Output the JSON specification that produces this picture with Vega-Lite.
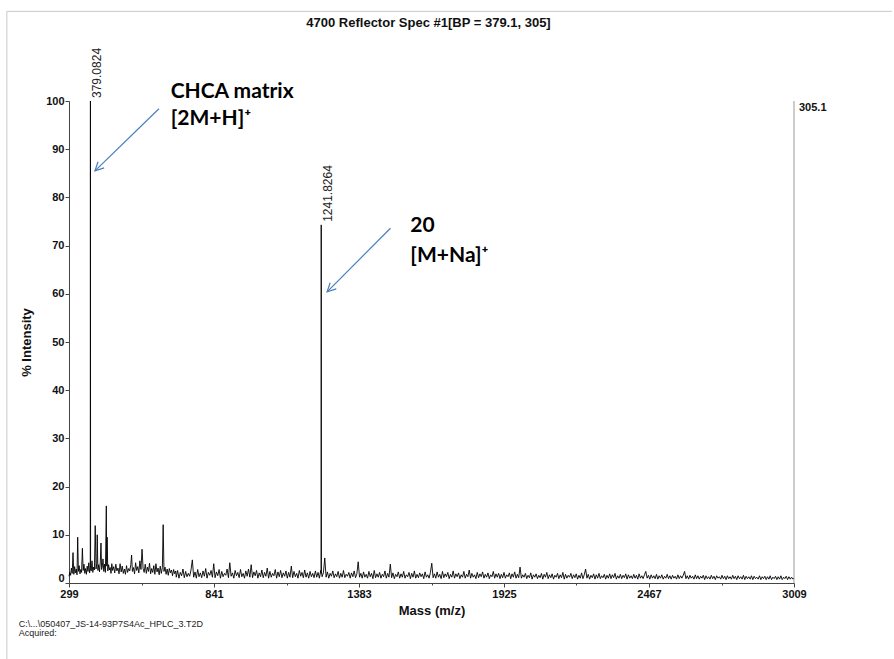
{
  "$schema": "https://vega.github.io/schema/vega-lite/v6.json",
  "width": 725,
  "height": 482,
  "autosize": {"type": "none"},
  "padding": {"left": 69, "top": 101, "right": 100, "bottom": 76},
  "background": "white",
  "title": {"text": "4700 Reflector Spec #1[BP = 379.1, 305]", "font": "Liberation Sans", "fontSize": 13, "fontWeight": "bold", "color": "#111111", "anchor": "middle", "frame": "group", "offset": 0, "dx": -3, "dy": 19},
  "config": {"view": {"stroke": null}, "font": "Liberation Sans"},
  "datasets": {
    "spectrum": [
      {"m":299,"i":1.4},{"m":302,"i":2.2},{"m":305,"i":1.6},{"m":308,"i":3.1},{"m":311,"i":2.0},{"m":314,"i":6.3},{"m":317,"i":1.8},{"m":320,"i":3.4},{"m":323,"i":2.1},{"m":326,"i":2.9},{"m":329,"i":1.7},{"m":331.5,"i":9.5},{"m":334,"i":2.4},{"m":337,"i":3.6},{"m":340,"i":1.9},{"m":343,"i":2.8},{"m":346,"i":2.2},{"m":349,"i":7.2},{"m":352,"i":2.6},{"m":355,"i":3.9},{"m":358,"i":2.0},{"m":361,"i":3.0},{"m":364,"i":1.8},{"m":367,"i":3.5},{"m":370,"i":2.4},{"m":373,"i":4.2},{"m":376,"i":2.1},{"m":378.5,"i":3.0},{"m":379.08,"i":100},{"m":379.7,"i":3.2},{"m":382,"i":2.5},{"m":385,"i":4.6},{"m":388,"i":2.2},{"m":391,"i":3.3},{"m":394,"i":2.7},{"m":397,"i":11.9},{"m":400,"i":2.9},{"m":403,"i":4.1},{"m":404.5,"i":10.0},{"m":407,"i":2.6},{"m":410,"i":3.8},{"m":413,"i":2.3},{"m":416,"i":4.4},{"m":418.5,"i":8.3},{"m":421,"i":2.8},{"m":424,"i":3.6},{"m":426,"i":5.0},{"m":429,"i":2.4},{"m":432,"i":3.9},{"m":435,"i":2.2},{"m":438.5,"i":16.0},{"m":440,"i":3.5},{"m":441.5,"i":9.5},{"m":444,"i":2.5},{"m":447,"i":3.8},{"m":450,"i":2.7},{"m":453,"i":3.2},{"m":456,"i":2.0},{"m":459,"i":4.0},{"m":462,"i":2.6},{"m":466,"i":3.4},{"m":470,"i":2.1},{"m":474,"i":3.9},{"m":478,"i":2.5},{"m":482,"i":3.1},{"m":486,"i":1.9},{"m":490,"i":4.0},{"m":494,"i":2.3},{"m":498,"i":3.5},{"m":502,"i":2.0},{"m":506,"i":2.9},{"m":510,"i":1.8},{"m":514,"i":3.6},{"m":518,"i":2.2},{"m":522,"i":3.0},{"m":526,"i":2.5},{"m":530,"i":3.8},{"m":533,"i":5.8},{"m":536,"i":2.4},{"m":540,"i":3.2},{"m":544,"i":1.9},{"m":548,"i":4.2},{"m":552,"i":2.6},{"m":556,"i":3.4},{"m":560,"i":2.1},{"m":564,"i":4.6},{"m":568,"i":2.8},{"m":572,"i":7.0},{"m":576,"i":3.0},{"m":580,"i":2.2},{"m":584,"i":3.9},{"m":588,"i":2.0},{"m":592,"i":3.3},{"m":596,"i":2.4},{"m":600,"i":4.1},{"m":604,"i":1.9},{"m":608,"i":3.0},{"m":612,"i":2.2},{"m":616,"i":3.6},{"m":620,"i":1.8},{"m":624,"i":4.0},{"m":628,"i":2.3},{"m":632,"i":3.1},{"m":636,"i":1.7},{"m":640,"i":3.5},{"m":644,"i":2.0},{"m":648,"i":3.2},{"m":651,"i":12.1},{"m":654,"i":2.4},{"m":658,"i":3.3},{"m":662,"i":1.8},{"m":666,"i":2.9},{"m":670,"i":1.6},{"m":674,"i":3.0},{"m":678,"i":2.1},{"m":682,"i":2.7},{"m":686,"i":1.5},{"m":690,"i":2.8},{"m":694,"i":1.9},{"m":698,"i":2.5},
      {"m":700,"i":1.2},{"m":705,"i":2.6},{"m":710,"i":1.0},{"m":715,"i":2.2},{"m":720,"i":1.5},{"m":725,"i":2.9},{"m":730,"i":1.1},{"m":735,"i":2.4},{"m":740,"i":1.3},{"m":745,"i":2.0},
      {"m":750,"i":1.4},{"m":755,"i":2.7},{"m":760,"i":4.8},{"m":765,"i":1.2},{"m":770,"i":2.3},{"m":775,"i":1.0},{"m":780,"i":2.8},{"m":785,"i":1.3},{"m":790,"i":2.1},{"m":795,"i":1.1},
      {"m":800,"i":2.5},{"m":805,"i":1.4},{"m":810,"i":3.0},{"m":815,"i":1.0},{"m":820,"i":2.2},{"m":825,"i":1.6},{"m":830,"i":2.6},{"m":835,"i":1.2},{"m":840,"i":4.0},{"m":845,"i":1.1},
      {"m":850,"i":2.3},{"m":855,"i":1.5},{"m":860,"i":2.8},{"m":865,"i":1.0},{"m":870,"i":2.4},{"m":875,"i":1.3},{"m":880,"i":2.0},{"m":885,"i":1.6},{"m":890,"i":2.9},{"m":895,"i":1.1},
      {"m":900,"i":4.2},{"m":905,"i":1.4},{"m":910,"i":2.1},{"m":915,"i":1.0},{"m":920,"i":2.6},{"m":925,"i":1.5},{"m":930,"i":2.2},{"m":935,"i":1.1},{"m":940,"i":2.8},{"m":945,"i":1.3},
      {"m":950,"i":2.0},{"m":955,"i":1.0},{"m":960,"i":2.5},{"m":965,"i":1.4},{"m":970,"i":2.9},{"m":975,"i":1.2},{"m":980,"i":3.8},{"m":985,"i":1.1},{"m":990,"i":2.3},{"m":995,"i":1.5},
      {"m":1000,"i":2.6},{"m":1005,"i":1.0},{"m":1010,"i":2.1},{"m":1015,"i":1.3},{"m":1020,"i":2.7},{"m":1025,"i":1.1},{"m":1030,"i":2.2},{"m":1035,"i":1.4},{"m":1040,"i":3.1},{"m":1045,"i":1.0},
      {"m":1050,"i":2.4},{"m":1055,"i":1.2},{"m":1060,"i":2.0},{"m":1065,"i":1.5},{"m":1070,"i":2.8},{"m":1075,"i":1.0},{"m":1080,"i":2.3},{"m":1085,"i":1.3},{"m":1090,"i":2.6},{"m":1095,"i":1.1},
      {"m":1100,"i":2.1},{"m":1105,"i":1.4},{"m":1110,"i":2.5},{"m":1115,"i":1.0},{"m":1120,"i":2.2},{"m":1125,"i":1.2},{"m":1130,"i":3.5},{"m":1135,"i":1.1},{"m":1140,"i":2.4},{"m":1145,"i":1.3},
      {"m":1150,"i":2.0},{"m":1155,"i":1.0},{"m":1160,"i":2.6},{"m":1165,"i":1.4},{"m":1170,"i":2.2},{"m":1175,"i":1.1},{"m":1180,"i":2.7},{"m":1185,"i":1.2},{"m":1190,"i":2.1},{"m":1195,"i":1.0},
      {"m":1200,"i":2.4},{"m":1205,"i":1.3},{"m":1210,"i":2.0},{"m":1215,"i":1.1},{"m":1220,"i":2.5},{"m":1225,"i":1.2},{"m":1230,"i":2.2},{"m":1235,"i":1.0},{"m":1240,"i":2.6},{"m":1241.2,"i":2.0},{"m":1241.83,"i":74.3},{"m":1242.5,"i":2.4},{"m":1245,"i":1.3},
      {"m":1250,"i":2.1},{"m":1255,"i":5.2},{"m":1260,"i":1.2},{"m":1265,"i":2.3},{"m":1270,"i":1.0},{"m":1275,"i":2.0},{"m":1280,"i":1.4},{"m":1285,"i":2.5},{"m":1290,"i":1.1},{"m":1295,"i":1.9},
      {"m":1300,"i":1.3},{"m":1305,"i":2.4},{"m":1310,"i":1.0},{"m":1315,"i":2.0},{"m":1320,"i":1.2},{"m":1325,"i":2.6},{"m":1330,"i":1.1},{"m":1335,"i":1.8},{"m":1340,"i":1.4},{"m":1345,"i":2.2},
      {"m":1350,"i":1.0},{"m":1355,"i":2.1},{"m":1360,"i":1.3},{"m":1365,"i":2.5},{"m":1370,"i":1.1},{"m":1375,"i":1.9},{"m":1380,"i":4.4},{"m":1385,"i":1.2},{"m":1390,"i":2.0},{"m":1395,"i":1.0},
      {"m":1400,"i":2.3},{"m":1405,"i":1.2},{"m":1410,"i":1.8},{"m":1415,"i":1.0},{"m":1420,"i":2.4},{"m":1425,"i":1.3},{"m":1430,"i":2.0},{"m":1435,"i":0.9},{"m":1440,"i":2.6},{"m":1445,"i":1.1},
      {"m":1450,"i":1.9},{"m":1455,"i":1.2},{"m":1460,"i":2.2},{"m":1465,"i":1.0},{"m":1470,"i":1.8},{"m":1475,"i":1.3},{"m":1480,"i":2.5},{"m":1485,"i":1.0},{"m":1490,"i":2.0},{"m":1495,"i":1.2},
      {"m":1500,"i":3.9},{"m":1505,"i":1.1},{"m":1510,"i":2.1},{"m":1515,"i":0.9},{"m":1520,"i":1.8},{"m":1525,"i":1.3},{"m":1530,"i":2.3},{"m":1535,"i":1.0},{"m":1540,"i":1.9},{"m":1545,"i":1.2},
      {"m":1550,"i":2.4},{"m":1555,"i":1.0},{"m":1560,"i":1.7},{"m":1565,"i":1.3},{"m":1570,"i":2.2},{"m":1575,"i":0.9},{"m":1580,"i":2.0},{"m":1585,"i":1.2},{"m":1590,"i":2.5},{"m":1595,"i":1.0},
      {"m":1600,"i":1.8},{"m":1605,"i":1.1},{"m":1610,"i":2.1},{"m":1615,"i":1.3},{"m":1620,"i":1.9},{"m":1625,"i":0.9},{"m":1630,"i":2.3},{"m":1635,"i":1.2},{"m":1640,"i":1.7},{"m":1645,"i":1.0},
      {"m":1650,"i":2.2},{"m":1655,"i":4.1},{"m":1660,"i":1.1},{"m":1665,"i":1.9},{"m":1670,"i":1.0},{"m":1675,"i":2.3},{"m":1680,"i":1.2},{"m":1685,"i":1.8},{"m":1690,"i":0.9},{"m":1695,"i":2.4},
      {"m":1700,"i":1.1},{"m":1705,"i":1.9},{"m":1710,"i":1.3},{"m":1715,"i":2.2},{"m":1720,"i":0.9},{"m":1725,"i":1.8},{"m":1730,"i":1.2},{"m":1735,"i":2.5},{"m":1740,"i":1.0},{"m":1745,"i":1.9},
      {"m":1750,"i":1.3},{"m":1755,"i":2.1},{"m":1760,"i":0.9},{"m":1765,"i":1.7},{"m":1770,"i":1.2},{"m":1775,"i":2.4},{"m":1780,"i":1.0},{"m":1785,"i":1.8},{"m":1790,"i":1.3},{"m":1795,"i":2.7},
      {"m":1800,"i":1.0},{"m":1805,"i":2.0},{"m":1810,"i":1.2},{"m":1815,"i":1.7},{"m":1820,"i":0.9},{"m":1825,"i":2.2},{"m":1830,"i":1.1},{"m":1835,"i":1.9},{"m":1840,"i":1.3},{"m":1845,"i":2.3},
      {"m":1850,"i":1.0},{"m":1855,"i":1.8},{"m":1860,"i":1.2},{"m":1865,"i":2.1},{"m":1870,"i":0.9},{"m":1875,"i":1.7},{"m":1880,"i":1.3},{"m":1885,"i":2.4},{"m":1890,"i":1.0},{"m":1895,"i":1.9},
      {"m":1900,"i":1.2},{"m":1905,"i":2.0},{"m":1910,"i":0.9},{"m":1915,"i":1.8},{"m":1920,"i":1.1},{"m":1925,"i":2.2},{"m":1930,"i":1.0},{"m":1935,"i":1.7},{"m":1940,"i":1.3},{"m":1945,"i":2.1},
      {"m":1950,"i":0.9},{"m":1955,"i":1.9},{"m":1960,"i":1.2},{"m":1965,"i":2.3},{"m":1970,"i":1.0},{"m":1975,"i":1.8},{"m":1980,"i":1.1},{"m":1985,"i":3.3},{"m":1990,"i":1.0},{"m":1995,"i":1.7},
      {"m":2000,"i":1.2},{"m":2005,"i":2.0},{"m":2010,"i":0.9},{"m":2015,"i":1.6},{"m":2020,"i":1.1},{"m":2025,"i":2.1},{"m":2030,"i":0.8},{"m":2035,"i":1.7},{"m":2040,"i":1.2},{"m":2045,"i":1.9},
      {"m":2050,"i":0.9},{"m":2055,"i":1.6},{"m":2060,"i":1.1},{"m":2065,"i":2.0},{"m":2070,"i":0.8},{"m":2075,"i":1.8},{"m":2080,"i":1.2},{"m":2085,"i":2.2},{"m":2090,"i":0.9},{"m":2095,"i":1.7},
      {"m":2100,"i":1.1},{"m":2105,"i":1.9},{"m":2110,"i":0.8},{"m":2115,"i":1.6},{"m":2120,"i":1.2},{"m":2125,"i":2.0},{"m":2130,"i":0.9},{"m":2135,"i":1.7},{"m":2140,"i":1.1},{"m":2145,"i":2.2},
      {"m":2150,"i":0.8},{"m":2155,"i":1.8},{"m":2160,"i":1.0},{"m":2165,"i":1.6},{"m":2170,"i":1.2},{"m":2175,"i":2.0},{"m":2180,"i":0.9},{"m":2185,"i":1.7},{"m":2190,"i":1.1},{"m":2195,"i":1.9},
      {"m":2200,"i":0.8},{"m":2205,"i":1.6},{"m":2210,"i":1.0},{"m":2215,"i":2.1},{"m":2220,"i":0.9},{"m":2225,"i":1.7},{"m":2230,"i":2.9},{"m":2235,"i":1.0},{"m":2240,"i":1.8},{"m":2245,"i":0.8},
      {"m":2250,"i":1.6},{"m":2255,"i":1.1},{"m":2260,"i":1.9},{"m":2265,"i":0.8},{"m":2270,"i":1.7},{"m":2275,"i":1.0},{"m":2280,"i":2.0},{"m":2285,"i":0.9},{"m":2290,"i":1.5},{"m":2295,"i":1.1},
      {"m":2300,"i":1.8},{"m":2305,"i":0.8},{"m":2310,"i":1.6},{"m":2315,"i":1.0},{"m":2320,"i":1.9},{"m":2325,"i":0.9},{"m":2330,"i":1.7},{"m":2335,"i":1.1},{"m":2340,"i":2.0},{"m":2345,"i":0.8},
      {"m":2350,"i":1.5},{"m":2355,"i":1.0},{"m":2360,"i":1.8},{"m":2365,"i":0.9},{"m":2370,"i":1.6},{"m":2375,"i":1.1},{"m":2380,"i":1.9},{"m":2385,"i":0.8},{"m":2390,"i":1.7},{"m":2395,"i":1.0},
      {"m":2400,"i":1.5},{"m":2405,"i":0.9},{"m":2410,"i":1.8},{"m":2415,"i":1.0},{"m":2420,"i":1.6},{"m":2425,"i":0.8},{"m":2430,"i":1.9},{"m":2435,"i":1.0},{"m":2440,"i":1.5},{"m":2445,"i":0.9},
      {"m":2450,"i":1.7},{"m":2455,"i":2.4},{"m":2460,"i":1.0},{"m":2465,"i":1.6},{"m":2470,"i":0.8},{"m":2475,"i":1.7},{"m":2480,"i":1.0},{"m":2485,"i":1.5},{"m":2490,"i":0.9},{"m":2495,"i":1.8},
      {"m":2500,"i":0.8},{"m":2505,"i":1.5},{"m":2510,"i":1.0},{"m":2515,"i":1.7},{"m":2520,"i":0.8},{"m":2525,"i":1.4},{"m":2530,"i":1.0},{"m":2535,"i":1.8},{"m":2540,"i":0.9},{"m":2545,"i":1.5},
      {"m":2550,"i":0.8},{"m":2555,"i":1.6},{"m":2560,"i":1.0},{"m":2565,"i":1.4},{"m":2570,"i":0.8},{"m":2575,"i":1.7},{"m":2580,"i":0.9},{"m":2585,"i":1.5},{"m":2590,"i":1.0},{"m":2595,"i":1.6},
      {"m":2600,"i":2.4},{"m":2605,"i":0.9},{"m":2610,"i":1.5},{"m":2615,"i":0.8},{"m":2620,"i":1.6},{"m":2625,"i":1.0},{"m":2630,"i":1.4},{"m":2635,"i":0.8},{"m":2640,"i":1.7},{"m":2645,"i":0.9},
      {"m":2650,"i":1.5},{"m":2655,"i":0.8},{"m":2660,"i":1.4},{"m":2665,"i":1.0},{"m":2670,"i":1.6},{"m":2675,"i":0.7},{"m":2680,"i":1.5},{"m":2685,"i":0.9},{"m":2690,"i":1.3},{"m":2695,"i":0.8},
      {"m":2700,"i":1.6},{"m":2705,"i":0.9},{"m":2710,"i":1.4},{"m":2715,"i":0.7},{"m":2720,"i":1.5},{"m":2725,"i":1.0},{"m":2730,"i":1.3},{"m":2735,"i":0.8},{"m":2740,"i":1.6},{"m":2745,"i":0.9},
      {"m":2750,"i":1.4},{"m":2755,"i":0.7},{"m":2760,"i":1.5},{"m":2765,"i":0.9},{"m":2770,"i":1.3},{"m":2775,"i":0.8},{"m":2780,"i":1.6},{"m":2785,"i":0.9},{"m":2790,"i":1.4},{"m":2795,"i":0.7},
      {"m":2800,"i":1.5},{"m":2805,"i":0.9},{"m":2810,"i":1.3},{"m":2815,"i":0.8},{"m":2820,"i":1.6},{"m":2825,"i":0.7},{"m":2830,"i":1.4},{"m":2835,"i":0.9},{"m":2840,"i":1.3},{"m":2845,"i":0.8},
      {"m":2850,"i":1.5},{"m":2855,"i":0.7},{"m":2860,"i":1.4},{"m":2865,"i":0.9},{"m":2870,"i":1.2},{"m":2875,"i":0.8},{"m":2880,"i":1.5},{"m":2885,"i":0.7},{"m":2890,"i":1.3},{"m":2895,"i":0.9},
      {"m":2900,"i":1.4},{"m":2905,"i":0.7},{"m":2910,"i":1.3},{"m":2915,"i":0.8},{"m":2920,"i":1.5},{"m":2925,"i":0.7},{"m":2930,"i":1.2},{"m":2935,"i":0.9},{"m":2940,"i":1.4},{"m":2945,"i":0.7},
      {"m":2950,"i":1.3},{"m":2955,"i":0.8},{"m":2960,"i":1.5},{"m":2965,"i":0.7},{"m":2970,"i":1.2},{"m":2975,"i":0.9},{"m":2980,"i":1.4},{"m":2985,"i":0.7},{"m":2990,"i":1.3},{"m":2995,"i":0.8},
      {"m":3000,"i":1.2},{"m":3005,"i":0.8},{"m":3009,"i":1.0}
    ],
    "peaks": [{"m":379.0824,"i":100},{"m":1241.8264,"i":74.3}],
    "basepeak": [{"m":3009,"i":100,"t":"305.1"}],
    "notes": [
      {"m":679,"i":100.7,"t":"CHCA matrix"},
      {"m":679,"i":95.0,"t":"[2M+H]⁺"},
      {"m":1575,"i":72.9,"t":"20"},
      {"m":1575,"i":66.6,"t":"[M+Na]⁺"}
    ],
    "arrows": [
      {"m1":635.2,"i1":98.4,"m2":396.1,"i2":85.5},
      {"m1":1500.5,"i1":73.6,"m2":1263.8,"i2":60.4}
    ],
    "footer": [
      {"m":111.5,"i":-9.06,"t":"C:\\...\\050407_JS-14-93P7S4Ac_HPLC_3.T2D"},
      {"m":111.5,"i":-11.03,"t":"Acquired:"}
    ],
    "frame": [
      {"m1":66.7,"i1":118.6,"m2":3375,"i2":118.6},
      {"m1":66.7,"i1":118.6,"m2":66.7,"i2":-16}
    ]
  },
  "layer": [
    {
      "data": {"name": "spectrum"},
      "mark": {"type": "line", "color": "#000000", "strokeWidth": 0.9},
      "encoding": {
        "x": {"field": "m", "type": "quantitative",
          "scale": {"domain": [299, 3009], "nice": false, "zero": false},
          "axis": {
            "title": "Mass (m/z)", "titleFont": "Liberation Sans", "titleFontSize": 13, "titleFontWeight": "bold", "titleColor": "#111111", "titlePadding": 5,
            "values": [299, 570, 841, 1112, 1383, 1654, 1925, 2196, 2467, 2738, 3009],
            "format": "d",
            "labelExpr": "(datum.value - 299) % 542 == 0 ? datum.label : ''",
            "tickSize": {"condition": {"test": "(datum.value - 299) % 542 == 0", "value": 4}, "value": 2},
            "labelFont": "Liberation Sans", "labelFontSize": 11, "labelFontWeight": "bold", "labelColor": "#111111",
            "labelFlush": false, "labelOverlap": false, "labelPadding": 1,
            "grid": false, "domainColor": "#444444", "tickColor": "#444444"
          }
        },
        "y": {"field": "i", "type": "quantitative",
          "scale": {"domain": [0, 100], "nice": false, "zero": false},
          "axis": {
            "title": "% Intensity", "titleFont": "Liberation Sans", "titleFontSize": 13, "titleFontWeight": "bold", "titleColor": "#111111", "titlePadding": 12,
            "values": [0,5,10,15,20,25,30,35,40,45,50,55,60,65,70,75,80,85,90,95,100],
            "labelExpr": "datum.value % 10 == 0 ? datum.label : ''",
            "tickSize": {"condition": {"test": "datum.value % 10 == 0", "value": 4}, "value": 2},
            "labelFont": "Liberation Sans", "labelFontSize": 11, "labelFontWeight": "bold", "labelColor": "#111111",
            "labelBaseline": {"condition": {"test": "datum.value == 0", "value": "bottom"}, "value": "middle"},
            "labelFlush": false, "labelOverlap": false, "labelPadding": 1,
            "grid": false, "domainColor": "#444444", "tickColor": "#444444"
          }
        }
      }
    },
    {
      "data": {"name": "frame"},
      "mark": {"type": "rule", "color": "#c8c8c8", "strokeWidth": 1},
      "encoding": {
        "x": {"field": "m1", "type": "quantitative", "scale": {"domain": [299, 3009], "nice": false, "zero": false}},
        "y": {"field": "i1", "type": "quantitative", "scale": {"domain": [0, 100], "nice": false, "zero": false}},
        "x2": {"field": "m2"},
        "y2": {"field": "i2"}
      }
    },
    {
      "data": {"values": [{}]},
      "mark": {"type": "rule", "color": "#999999", "strokeWidth": 1},
      "encoding": {
        "x": {"datum": 3009, "type": "quantitative", "scale": {"domain": [299, 3009], "nice": false, "zero": false}},
        "y": {"datum": 0, "type": "quantitative", "scale": {"domain": [0, 100], "nice": false, "zero": false}},
        "y2": {"datum": 100}
      }
    },
    {
      "data": {"name": "peaks"},
      "mark": {"type": "text", "angle": 270, "align": "left", "baseline": "top", "dx": 3, "dy": 2, "fontSize": 12, "font": "Liberation Sans", "color": "#222222"},
      "encoding": {
        "x": {"field": "m", "type": "quantitative", "scale": {"domain": [299, 3009], "nice": false, "zero": false}},
        "y": {"field": "i", "type": "quantitative", "scale": {"domain": [0, 100], "nice": false, "zero": false}},
        "text": {"field": "m", "type": "quantitative", "format": ".4f"}
      }
    },
    {
      "data": {"name": "basepeak"},
      "mark": {"type": "text", "align": "left", "baseline": "top", "dx": 5, "dy": 1, "fontSize": 11, "fontWeight": "bold", "font": "Liberation Sans", "color": "#111111"},
      "encoding": {
        "x": {"field": "m", "type": "quantitative", "scale": {"domain": [299, 3009], "nice": false, "zero": false}},
        "y": {"field": "i", "type": "quantitative", "scale": {"domain": [0, 100], "nice": false, "zero": false}},
        "text": {"field": "t", "type": "nominal"}
      }
    },
    {
      "data": {"name": "notes"},
      "mark": {"type": "text", "align": "left", "baseline": "alphabetic", "fontSize": 21, "fontWeight": "bold", "font": "Lato", "color": "#000000"},
      "encoding": {
        "x": {"field": "m", "type": "quantitative", "scale": {"domain": [299, 3009], "nice": false, "zero": false}},
        "y": {"field": "i", "type": "quantitative", "scale": {"domain": [0, 100], "nice": false, "zero": false}},
        "text": {"field": "t", "type": "nominal"}
      }
    },
    {
      "data": {"name": "arrows"},
      "mark": {"type": "rule", "color": "#4a7ebb", "strokeWidth": 1.2},
      "encoding": {
        "x": {"field": "m1", "type": "quantitative", "scale": {"domain": [299, 3009], "nice": false, "zero": false}},
        "y": {"field": "i1", "type": "quantitative", "scale": {"domain": [0, 100], "nice": false, "zero": false}},
        "x2": {"field": "m2"},
        "y2": {"field": "i2"}
      }
    },
    {
      "data": {"name": "arrows"},
      "mark": {"type": "point", "shape": "M -0.5 1 L 0 0 L 0.5 1", "filled": false, "size": 300, "strokeWidth": 1.2, "color": "#4a7ebb", "angle": 225, "opacity": 1},
      "encoding": {
        "x": {"field": "m2", "type": "quantitative", "scale": {"domain": [299, 3009], "nice": false, "zero": false}},
        "y": {"field": "i2", "type": "quantitative", "scale": {"domain": [0, 100], "nice": false, "zero": false}}
      }
    },
    {
      "data": {"name": "footer"},
      "mark": {"type": "text", "align": "left", "baseline": "alphabetic", "fontSize": 9, "font": "Liberation Sans", "color": "#222222"},
      "encoding": {
        "x": {"field": "m", "type": "quantitative", "scale": {"domain": [299, 3009], "nice": false, "zero": false}},
        "y": {"field": "i", "type": "quantitative", "scale": {"domain": [0, 100], "nice": false, "zero": false}},
        "text": {"field": "t", "type": "nominal"}
      }
    }
  ]
}
